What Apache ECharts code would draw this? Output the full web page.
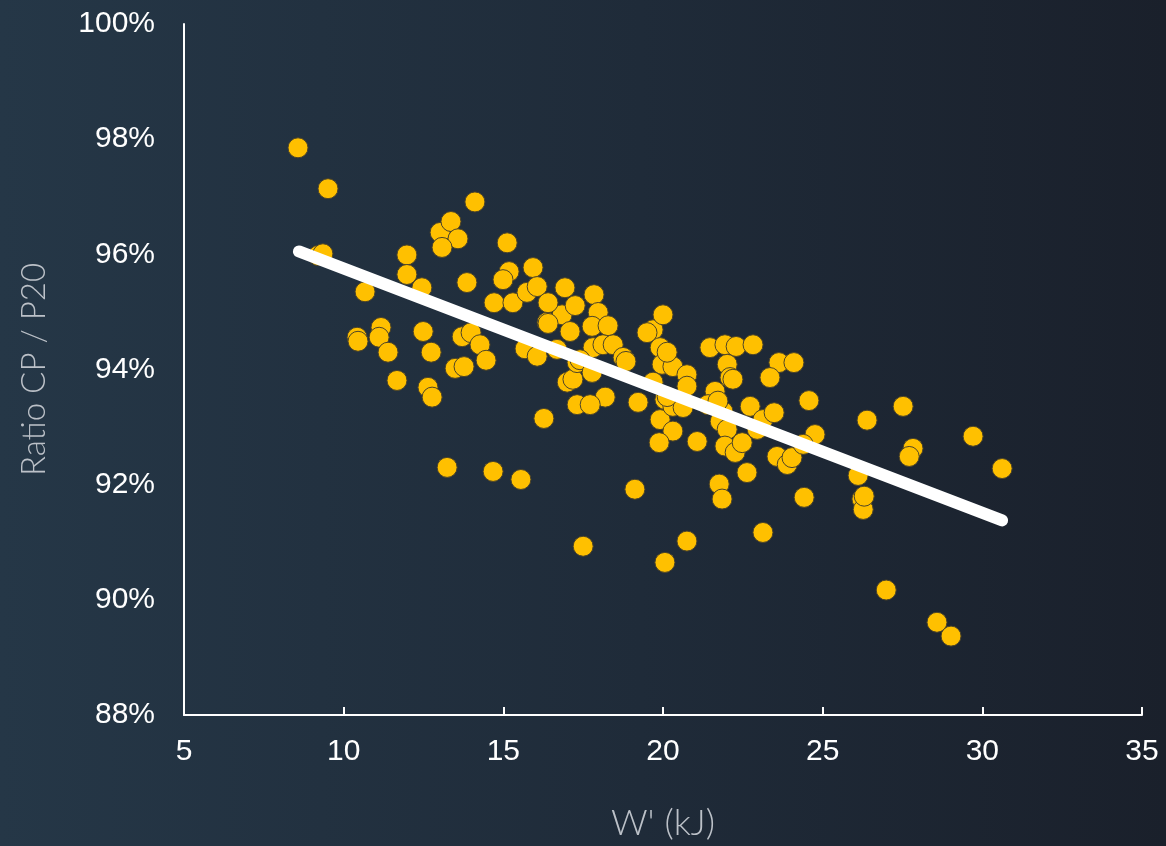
<!DOCTYPE html>
<html>
<head>
<meta charset="utf-8">
<style>
  html, body { margin: 0; padding: 0; }
  body { width: 1166px; height: 846px; background: linear-gradient(90deg, #253747 0%, #1f2b39 55%, #1a202b 100%); }
  #chart { width: 1166px; height: 846px; }
</style>
<script src="https://cdn.jsdelivr.net/npm/echarts@6/dist/echarts.min.js"></script>
</head>
<body>
<div id="chart"></div>
<script>
// W' (kJ) for each rider
const wPrime = [
  8.57, 9.51, 9.20, 9.35, 10.67, 11.98, 11.98, 12.45, 13.86, 14.11,
  13.02, 13.36, 13.58, 13.08, 15.12, 15.18, 14.99, 14.71, 15.30, 15.74,
  15.93, 16.06, 10.42, 10.45, 11.17, 11.11, 11.39, 12.49, 12.74, 11.67,
  12.64, 12.77, 13.71, 13.99, 14.27, 14.46, 13.49, 13.77, 13.24, 14.68,
  15.55, 16.27, 16.37, 16.84, 17.09, 15.68, 16.06, 16.68, 17.00, 17.18,
  17.31, 16.40, 16.93, 17.25, 16.40, 17.84, 17.97, 17.78, 18.28, 17.81,
  18.12, 18.44, 18.75, 18.84, 19.69, 20.00, 19.91, 19.97, 20.31, 17.31,
  17.40, 17.78, 18.19, 17.72, 19.22, 19.91, 19.69, 20.06, 20.31, 20.63,
  19.50, 20.75, 20.75, 20.31, 19.88, 21.07, 21.47, 21.94, 22.29, 22.82,
  22.01, 22.10, 22.19, 21.63, 21.41, 21.88, 21.79, 22.01, 22.73, 21.94,
  22.26, 22.48, 22.95, 23.13, 20.13, 20.13, 19.12, 22.63, 21.76, 21.85,
  23.48, 23.63, 24.10, 23.35, 24.57, 23.57, 23.89, 24.04, 24.76, 24.39,
  24.42, 23.13, 26.39, 27.52, 26.11, 26.23, 26.27, 26.30, 27.83, 27.71,
  29.71, 30.62, 26.99, 28.58, 29.02, 20.75, 20.06, 17.50, 21.72
];

// CP / P20 ratio (%) for the same riders
const ratio = [
  97.85, 97.14, 95.98, 96.01, 95.35, 95.99, 95.65, 95.42, 95.51, 96.91,
  96.38, 96.57, 96.27, 96.12, 96.20, 95.70, 95.56, 95.16, 95.16, 95.34,
  95.77, 95.44, 94.56, 94.49, 94.73, 94.56, 94.30, 94.66, 94.30, 93.81,
  93.69, 93.52, 94.57, 94.64, 94.43, 94.16, 94.02, 94.05, 92.30, 92.23,
  92.09, 93.15, 94.82, 94.95, 94.66, 94.36, 94.23, 94.35, 93.78, 93.83,
  93.39, 95.16, 95.42, 95.11, 94.80, 95.30, 94.99, 94.75, 94.76, 94.38,
  94.43, 94.43, 94.21, 94.14, 94.69, 94.95, 94.38, 94.09, 94.05, 94.12,
  94.17, 93.95, 93.52, 93.39, 93.43, 93.13, 93.78, 93.48, 93.36, 93.34,
  94.64, 93.91, 93.71, 92.93, 92.73, 92.75, 94.38, 94.43, 94.40, 94.43,
  94.09, 93.86, 93.83, 93.62, 93.39, 93.27, 93.10, 92.96, 93.36, 92.67,
  92.56, 92.73, 92.96, 93.13, 94.30, 93.53, 91.92, 92.21, 92.01, 91.75,
  93.25, 94.12, 94.12, 93.86, 93.46, 92.49, 92.35, 92.47, 92.87, 92.70,
  91.78, 91.17, 93.12, 93.36, 92.16, 91.75, 91.57, 91.80, 92.63, 92.49,
  92.84, 92.28, 90.17, 89.61, 89.37, 91.02, 90.65, 90.93, 93.45
];

// Linear trend end points
const trendX = [8.6, 30.62];
const trendY = [96.05, 91.38];

// Axis ranges
const xTicks = { min: 5, max: 35, step: 5 };
const yTicks = { min: 88, max: 100, step: 2 };

const points = wPrime.map((w, i) => [w, ratio[i]]);
const trend = trendX.map((x, i) => [x, trendY[i]]);

const titleFont = { color: '#bcc1c8', fontSize: 36, fontFamily: 'Lato, Roboto, sans-serif', fontWeight: 300 };
const tickFont = { color: '#ffffff', fontSize: 30, fontFamily: '"Liberation Sans", Arial, sans-serif' };

const chart = echarts.init(document.getElementById('chart'), null, { renderer: 'canvas' });

chart.setOption({
  backgroundColor: 'transparent',
  animation: false,
  grid: { left: 184, right: 24, top: 24, bottom: 130 },
  xAxis: {
    type: 'value',
    min: xTicks.min, max: xTicks.max, interval: xTicks.step,
    name: "W' (kJ)",
    nameLocation: 'middle',
    nameGap: 90,
    nameTextStyle: titleFont,
    axisLine: { show: true, lineStyle: { color: '#ffffff', width: 2 } },
    axisTick: { show: true, inside: true, length: 8, lineStyle: { color: '#ffffff', width: 2 } },
    axisLabel: Object.assign({ margin: 22 }, tickFont),
    splitLine: { show: false }
  },
  yAxis: {
    type: 'value',
    min: yTicks.min, max: yTicks.max, interval: yTicks.step,
    name: 'Ratio CP / P20',
    nameLocation: 'middle',
    nameGap: 133,
    nameRotate: 90,
    nameTextStyle: Object.assign({}, titleFont, { fontSize: 33 }),
    axisLine: { show: true, lineStyle: { color: '#ffffff', width: 2 } },
    axisTick: { show: false },
    axisLabel: Object.assign({ margin: 29, formatter: v => v + '%' }, tickFont),
    splitLine: { show: false }
  },
  series: [
    {
      type: 'scatter',
      data: points,
      symbol: 'circle',
      symbolSize: 20,
      itemStyle: { color: '#ffc000', borderColor: '#4d4428', borderWidth: 1, opacity: 1 },
      z: 2
    },
    {
      type: 'line',
      data: trend,
      symbol: 'none',
      lineStyle: { color: '#ffffff', width: 12, cap: 'round' },
      z: 3
    }
  ]
});
</script>
</body>
</html>
